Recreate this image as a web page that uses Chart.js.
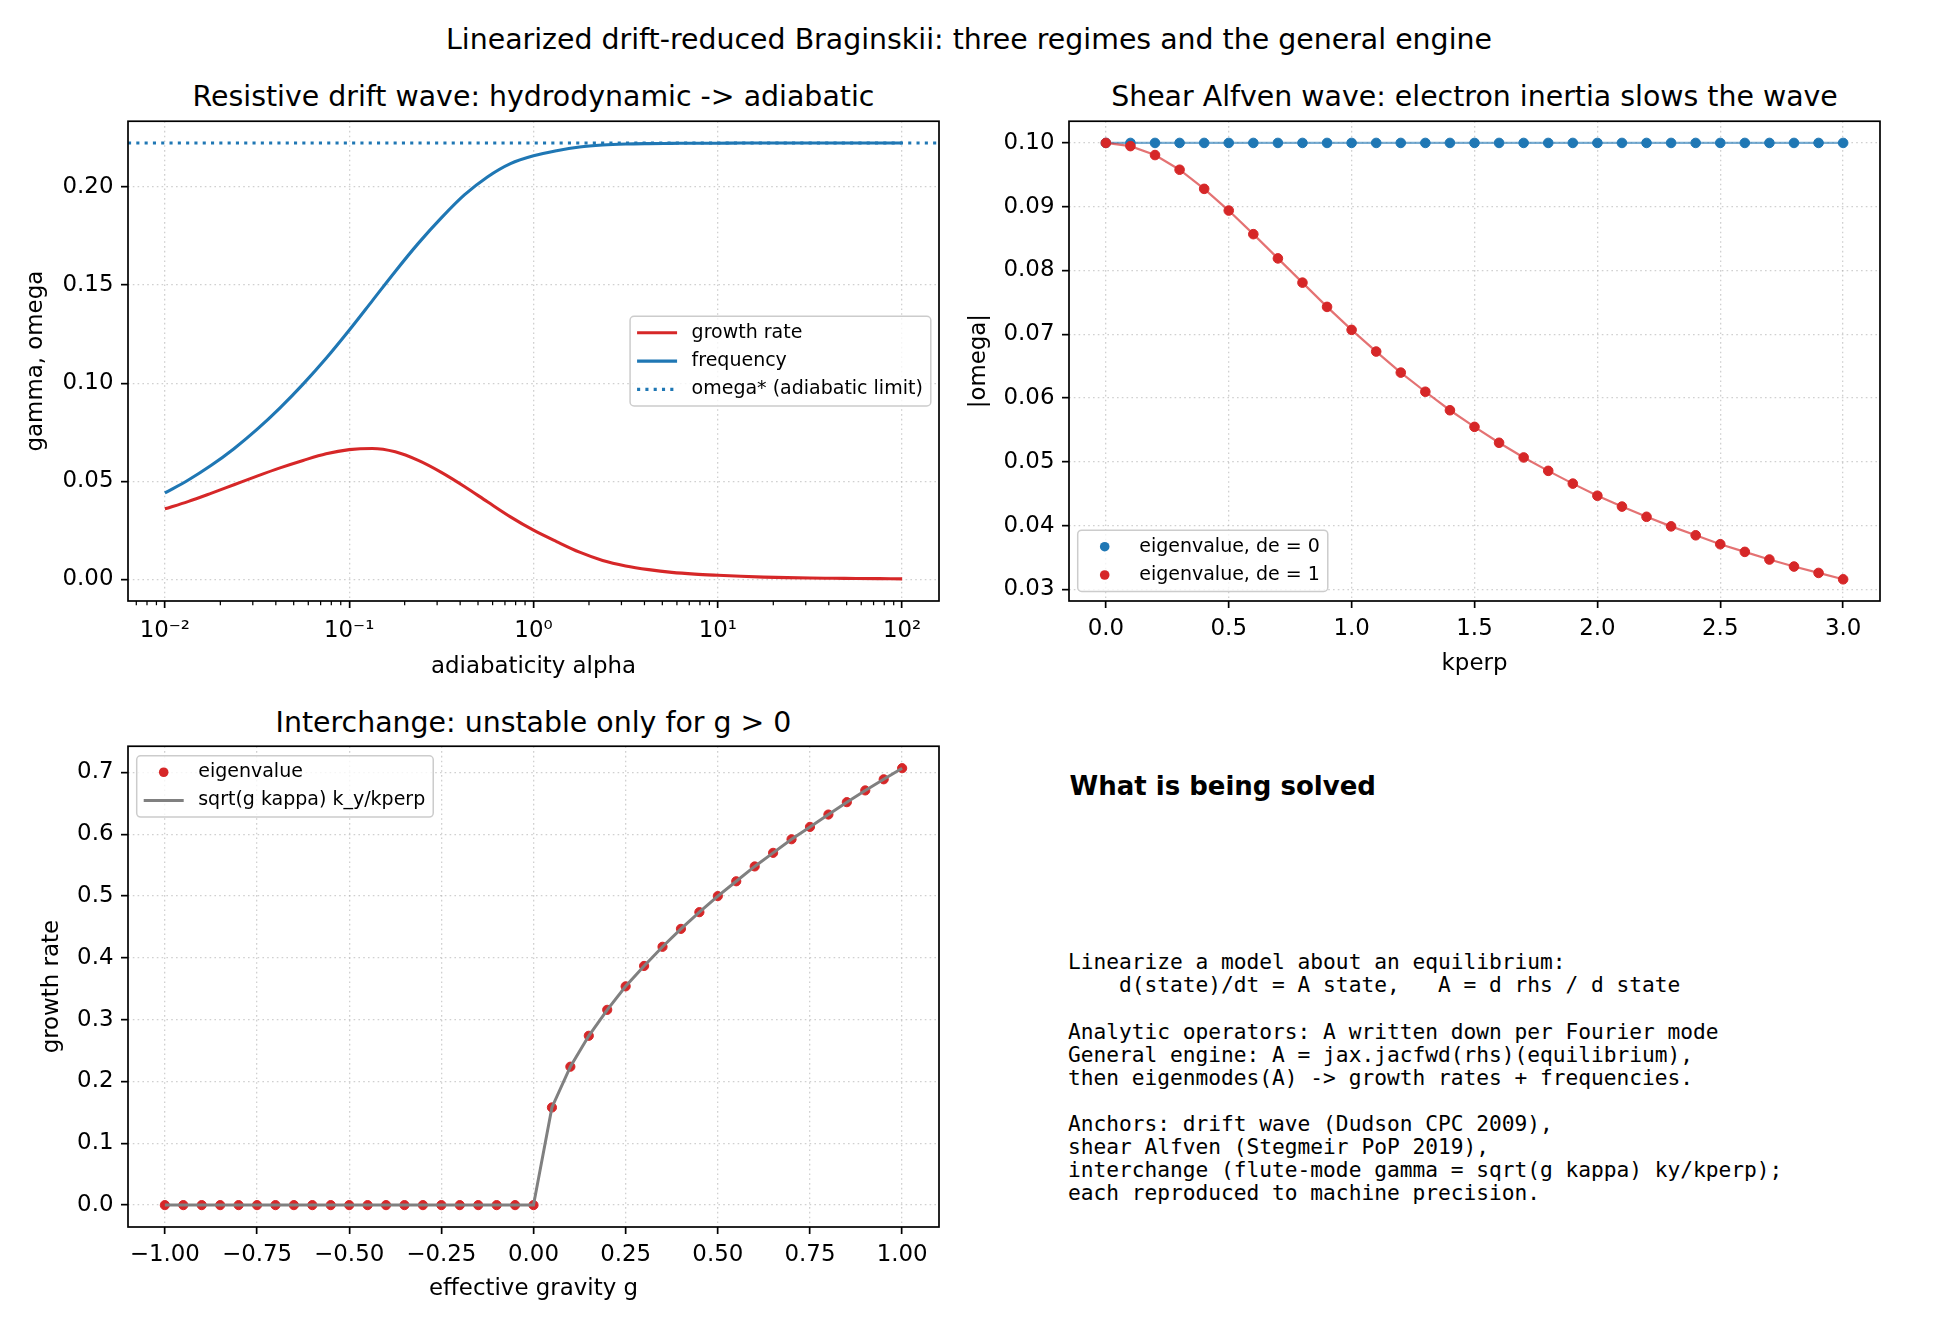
<!DOCTYPE html>
<html>
<head>
<meta charset="utf-8">
<script src="https://cdn.jsdelivr.net/npm/chart.js@4.4.1/dist/chart.umd.min.js"></script>
<style>
  body { margin: 0; background: #fff; }
  #fig { position: relative; width: 1938px; height: 1326px; overflow: hidden; font-family: "DejaVu Sans", sans-serif; color: #000; }
  canvas { position: absolute; }
  .title { position: absolute; font-size: 28.4px; line-height: 34px; text-align: center; white-space: nowrap; }
  #note-head { position: absolute; left: 1069.5px; top: 771.3px; font-size: 26px; line-height: 30px; font-weight: bold; white-space: nowrap; }
  #note { position: absolute; left: 1068px; top: 950.4px; margin: 0; font-family: "DejaVu Sans Mono", monospace; font-size: 21.2px; line-height: 23.06px; }
</style>
</head>
<body>
<div id="fig">
  <div class="title" style="left:0; width:1938px; top:23.2px;">Linearized drift-reduced Braginskii: three regimes and the general engine</div>
  <div class="title" style="left:128px; width:811px; top:79.7px;">Resistive drift wave: hydrodynamic -&gt; adiabatic</div>
  <div class="title" style="left:1069px; width:811px; top:79.7px;">Shear Alfven wave: electron inertia slows the wave</div>
  <div class="title" style="left:128px; width:811px; top:705.7px;">Interchange: unstable only for g &gt; 0</div>
  <canvas id="c1"></canvas>
  <canvas id="c2"></canvas>
  <canvas id="c3"></canvas>
  <div id="note-head">What is being solved</div>
<pre id="note">Linearize a model about an equilibrium:
    d(state)/dt = A state,   A = d rhs / d state

Analytic operators: A written down per Fourier mode
General engine: A = jax.jacfwd(rhs)(equilibrium),
then eigenmodes(A) -> growth rates + frequencies.

Anchors: drift wave (Dudson CPC 2009),
shear Alfven (Stegmeir PoP 2019),
interchange (flute-mode gamma = sqrt(g kappa) ky/kperp);
each reproduced to machine precision.</pre>
</div>
<script>
// ---- panel 1: resistive drift wave ----
const alpha = [0.01, 0.01334, 0.01778, 0.02371, 0.03162, 0.04217, 0.05623, 0.07499,
  0.1, 0.1334, 0.1778, 0.2371, 0.3162, 0.4217, 0.5623, 0.7499,
  1, 1.334, 1.778, 2.371, 3.162, 4.217, 5.623, 7.499,
  10, 13.34, 17.78, 23.71, 31.62, 42.17, 56.23, 74.99, 100];
const growthRate = [0.0359, 0.0396, 0.0438, 0.0482, 0.0526, 0.0568, 0.0606, 0.0640,
  0.0661, 0.0667, 0.0650, 0.0606, 0.0545, 0.0473, 0.0395, 0.0318,
  0.0250, 0.0192, 0.0138, 0.0096, 0.0068, 0.0049, 0.0035, 0.0026,
  0.0020, 0.0015, 0.0011, 0.0008, 0.0006, 0.0005, 0.0004, 0.0003, 0.0002];
const frequency = [0.0440, 0.0505, 0.0580, 0.0666, 0.0764, 0.0874, 0.0995, 0.1127,
  0.1270, 0.1420, 0.1570, 0.1713, 0.1843, 0.1960, 0.2052, 0.2120,
  0.2160, 0.2186, 0.2205, 0.2215, 0.2220, 0.2222, 0.2223, 0.2224,
  0.2224, 0.2225, 0.2225, 0.2225, 0.2225, 0.2225, 0.2225, 0.2225, 0.2225];
const omegaStar = 0.2225;
const x1Range = [0.00631, 158.5];
const y1Range = [-0.0111, 0.2336];
const x1Ticks = [0.01, 0.1, 1, 10, 100];
const x1TickLabels = ['10\u207B\u00B2', '10\u207B\u00B9', '10\u2070', '10\u00B9', '10\u00B2'];
const x1Decades = [0.001, 0.01, 0.1, 1, 10, 100];
const y1Ticks = [0, 0.05, 0.10, 0.15, 0.20];
const y1TickLabels = ['0.00', '0.05', '0.10', '0.15', '0.20'];

// ---- panel 2: shear Alfven wave ----
const kperp = [0.0, 0.1, 0.2, 0.3, 0.4, 0.5, 0.6, 0.7, 0.8, 0.9, 1.0, 1.1, 1.2, 1.3, 1.4, 1.5,
  1.6, 1.7, 1.8, 1.9, 2.0, 2.1, 2.2, 2.3, 2.4, 2.5, 2.6, 2.7, 2.8, 2.9, 3.0];
const omegaDe0 = [0.1, 0.1, 0.1, 0.1, 0.1, 0.1, 0.1, 0.1, 0.1, 0.1, 0.1, 0.1, 0.1, 0.1, 0.1, 0.1,
  0.1, 0.1, 0.1, 0.1, 0.1, 0.1, 0.1, 0.1, 0.1, 0.1, 0.1, 0.1, 0.1, 0.1, 0.1];
const omegaDe1 = [0.1000, 0.0995, 0.0981, 0.0958, 0.0928, 0.0894, 0.0857, 0.0819, 0.0781, 0.0743,
  0.0707, 0.0673, 0.0640, 0.0610, 0.0581, 0.0555, 0.0530, 0.0507, 0.0486, 0.0466,
  0.0447, 0.0430, 0.0414, 0.0399, 0.0385, 0.0371, 0.0359, 0.0347, 0.0336, 0.0326, 0.0316];
const x2Range = [-0.15, 3.15];
const y2Range = [0.0282, 0.1034];
const x2Ticks = [0, 0.5, 1, 1.5, 2, 2.5, 3];
const x2TickLabels = ['0.0', '0.5', '1.0', '1.5', '2.0', '2.5', '3.0'];
const y2Ticks = [0.03, 0.04, 0.05, 0.06, 0.07, 0.08, 0.09, 0.10];
const y2TickLabels = ['0.03', '0.04', '0.05', '0.06', '0.07', '0.08', '0.09', '0.10'];

// ---- panel 3: interchange ----
const gravity = [-1.00, -0.95, -0.90, -0.85, -0.80, -0.75, -0.70, -0.65, -0.60, -0.55, -0.50,
  -0.45, -0.40, -0.35, -0.30, -0.25, -0.20, -0.15, -0.10, -0.05, 0.00,
  0.05, 0.10, 0.15, 0.20, 0.25, 0.30, 0.35, 0.40, 0.45, 0.50,
  0.55, 0.60, 0.65, 0.70, 0.75, 0.80, 0.85, 0.90, 0.95, 1.00];
const gammaEig = [0, 0, 0, 0, 0, 0, 0, 0, 0, 0, 0, 0, 0, 0, 0, 0, 0, 0, 0, 0, 0,
  0.158, 0.224, 0.274, 0.316, 0.354, 0.387, 0.418, 0.447, 0.474, 0.500,
  0.524, 0.548, 0.570, 0.592, 0.612, 0.632, 0.652, 0.671, 0.689, 0.707];
const gammaAnalytic = [0, 0, 0, 0, 0, 0, 0, 0, 0, 0, 0, 0, 0, 0, 0, 0, 0, 0, 0, 0, 0,
  0.158, 0.224, 0.274, 0.316, 0.354, 0.387, 0.418, 0.447, 0.474, 0.500,
  0.524, 0.548, 0.570, 0.592, 0.612, 0.632, 0.652, 0.671, 0.689, 0.707];
const x3Range = [-1.1, 1.1];
const y3Range = [-0.0354, 0.7425];
const x3Ticks = [-1, -0.75, -0.5, -0.25, 0, 0.25, 0.5, 0.75, 1];
const x3TickLabels = ['\u22121.00', '\u22120.75', '\u22120.50', '\u22120.25', '0.00', '0.25', '0.50', '0.75', '1.00'];
const y3Ticks = [0, 0.1, 0.2, 0.3, 0.4, 0.5, 0.6, 0.7];
const y3TickLabels = ['0.0', '0.1', '0.2', '0.3', '0.4', '0.5', '0.6', '0.7'];

const RED = '#d62728', BLUE = '#1f77b4', GRAY = '#808080';
const FONT_PX = 22.9;
const LH = FONT_PX * 1.2;
const MID = 6.8;   // baseline to em-middle
const GRID_COLOR = 'rgba(176,176,176,0.6)';

Chart.defaults.font.family = '"DejaVu Sans", sans-serif';
Chart.defaults.color = '#000';

// matplotlib-like box around the plot
const frame = {
  id: 'frame',
  afterDatasetsDraw(chart) {
    const { ctx, chartArea: a } = chart;
    ctx.save();
    ctx.strokeStyle = '#000';
    ctx.lineWidth = 1.7;
    ctx.strokeRect(a.left, a.top, a.right - a.left, a.bottom - a.top);
    ctx.restore();
  }
};

// small ticks between decades on the log axis
const minorTicks = {
  id: 'minorTicks',
  afterDatasetsDraw(chart, args, opts) {
    if (!opts.decades) return;
    const { ctx, chartArea: a, scales: { x } } = chart;
    ctx.save();
    ctx.strokeStyle = '#000';
    ctx.lineWidth = 1.25;
    opts.decades.forEach(d => {
      for (let m = 2; m <= 9; m++) {
        const v = m * d;
        if (v < x.min || v > x.max) continue;
        const px = x.getPixelForValue(v);
        ctx.beginPath();
        ctx.moveTo(px, a.bottom);
        ctx.lineTo(px, a.bottom + 4.2);
        ctx.stroke();
      }
    });
    ctx.restore();
  }
};

// legend drawn inside the plot area, like ax.legend(loc=...)
const mplLegend = {
  id: 'mplLegend',
  afterDraw(chart, args, opts) {
    if (!opts.loc) return;
    const { ctx, chartArea: a } = chart;
    const items = chart.data.datasets.filter(d => d.label);
    ctx.save();
    ctx.font = '19px "DejaVu Sans"';
    const tw = Math.max(...items.map(d => ctx.measureText(d.label).width));
    const w = 61.5 + tw + 8;
    const h = (items.length - 1) * 28.3 + 33;
    const x = opts.loc.includes('left') ? a.left + 8.7 : a.right - 8.2 - w;
    let y = (a.top + a.bottom - h) / 2;
    if (opts.loc.startsWith('upper')) y = a.top + 9.5;
    if (opts.loc.startsWith('lower')) y = a.bottom - 9.5 - h;
    ctx.beginPath();
    if (ctx.roundRect) ctx.roundRect(x, y, w, h, 4); else ctx.rect(x, y, w, h);
    ctx.fillStyle = 'rgba(255,255,255,0.8)';
    ctx.fill();
    ctx.strokeStyle = '#cccccc';
    ctx.lineWidth = 1.5;
    ctx.stroke();
    items.forEach((d, i) => {
      const cy = y + 16.5 + i * 28.3;
      if (d.legendMarker === 'dot') {
        ctx.beginPath();
        ctx.arc(x + 27, cy, 4.8, 0, 2 * Math.PI);
        ctx.fillStyle = d.pointBackgroundColor;
        ctx.fill();
      } else {
        ctx.beginPath();
        ctx.setLineDash(d.borderDash || []);
        ctx.moveTo(x + 7, cy);
        ctx.lineTo(x + 47, cy);
        ctx.strokeStyle = d.borderColor;
        ctx.lineWidth = d.borderWidth;
        ctx.stroke();
        ctx.setLineDash([]);
      }
      ctx.fillStyle = '#000';
      ctx.textBaseline = 'middle';
      ctx.textAlign = 'left';
      ctx.fillText(d.label, x + 61.5, cy);
    });
    ctx.restore();
  }
};

function mount(id, box) {
  const c = document.getElementById(id);
  c.width = box.width;
  c.height = box.height;
  Object.assign(c.style, { left: box.left + 'px', top: box.top + 'px', width: box.width + 'px', height: box.height + 'px' });
  return c;
}

function axis(range, ticks, labels, title, type, pad) {
  return {
    type: type || 'linear',
    bounds: 'data',
    min: range[0],
    max: range[1],
    afterBuildTicks: s => { s.ticks = ticks.map(v => ({ value: v })); },
    grid: { color: GRID_COLOR, lineWidth: 1.3, drawTicks: true, tickLength: 7, tickWidth: 1.7, tickColor: '#000' },
    border: { display: false, dash: [1.6, 3.2] },
    ticks: {
      font: { size: FONT_PX }, color: '#000', padding: pad || 7.5,
      autoSkip: false, maxRotation: 0, minRotation: 0,
      callback: (v, i) => labels[i]
    },
    title: { display: true, text: title, font: { size: FONT_PX }, color: '#000', padding: 0 }
  };
}

// box: canvas on the page, area: wanted plot rectangle
function panel(id, box, area, yTitleX, xTitleBase, datasets, scales, pluginOpts) {
  const pl = yTitleX - box.left - LH / 2;
  const xBottom = xTitleBase - MID + LH / 2;
  const yWidth = area.left - box.left - pl;
  const xHeight = xBottom - area.bottom;
  scales.x.afterFit = s => { s.height = xHeight; };
  scales.y.afterFit = s => { s.width = yWidth; };
  return new Chart(mount(id, box), {
    type: 'line',
    data: { datasets },
    options: {
      responsive: false,
      animation: false,
      events: [],
      layout: { padding: { left: pl, top: area.top - box.top, right: box.left + box.width - area.right, bottom: box.top + box.height - xBottom } },
      scales,
      plugins: Object.assign({ legend: { display: false }, tooltip: { enabled: false } }, pluginOpts)
    },
    plugins: [frame, minorTicks, mplLegend]
  });
}

const xy = (xs, ys) => xs.map((x, i) => ({ x, y: ys[i] }));

panel('c1', { left: 0, top: 100, width: 960, height: 590 }, { left: 128, top: 120, right: 939, bottom: 601 }, 36, 673.5, [
  { label: 'growth rate', data: xy(alpha, growthRate), borderColor: RED, borderWidth: 3.1, pointRadius: 0, cubicInterpolationMode: 'monotone', legendMarker: 'line', order: 2 },
  { label: 'frequency', data: xy(alpha, frequency), borderColor: BLUE, borderWidth: 3.1, pointRadius: 0, cubicInterpolationMode: 'monotone', legendMarker: 'line', order: 1 },
  { label: 'omega* (adiabatic limit)', data: xy(x1Range, [omegaStar, omegaStar]), borderColor: BLUE, borderWidth: 3.1, borderDash: [3.1, 5.2], pointRadius: 0, legendMarker: 'line', order: 0 }
], {
  x: axis(x1Range, x1Ticks, x1TickLabels, 'adiabaticity alpha', 'logarithmic', 9.5),
  y: axis(y1Range, y1Ticks, y1TickLabels, 'gamma, omega')
}, { minorTicks: { decades: x1Decades }, mplLegend: { loc: 'center right' } });

panel('c2', { left: 960, top: 100, width: 978, height: 590 }, { left: 1069, top: 120, right: 1880, bottom: 601 }, 979, 670.5, [
  { label: 'eigenvalue, de = 0', data: xy(kperp, omegaDe0), borderColor: 'rgba(31,119,180,0.6)', borderWidth: 2.2, tension: 0,
    pointRadius: 4.8, pointBorderWidth: 1, pointBackgroundColor: BLUE, pointBorderColor: BLUE, legendMarker: 'dot', order: 1 },
  { label: 'eigenvalue, de = 1', data: xy(kperp, omegaDe1), borderColor: 'rgba(214,39,40,0.65)', borderWidth: 2.2, tension: 0,
    pointRadius: 4.8, pointBorderWidth: 1, pointBackgroundColor: RED, pointBorderColor: RED, legendMarker: 'dot', order: 0 }
], {
  x: axis(x2Range, x2Ticks, x2TickLabels, 'kperp'),
  y: axis(y2Range, y2Ticks, y2TickLabels, '|omega|')
}, { mplLegend: { loc: 'lower left' } });

panel('c3', { left: 0, top: 725, width: 960, height: 590 }, { left: 128, top: 746, right: 939, bottom: 1227 }, 52.5, 1296, [
  { label: 'eigenvalue', data: xy(gravity, gammaEig), showLine: false, borderColor: RED,
    pointRadius: 4.6, pointBorderWidth: 1, pointBackgroundColor: RED, pointBorderColor: RED, legendMarker: 'dot', order: 1 },
  { label: 'sqrt(g kappa) k_y/kperp', data: xy(gravity, gammaAnalytic), borderColor: GRAY, borderWidth: 3, tension: 0,
    pointRadius: 0, legendMarker: 'line', order: 0 }
], {
  x: axis(x3Range, x3Ticks, x3TickLabels, 'effective gravity g'),
  y: axis(y3Range, y3Ticks, y3TickLabels, 'growth rate')
}, { mplLegend: { loc: 'upper left' } });
</script>
</body>
</html>
